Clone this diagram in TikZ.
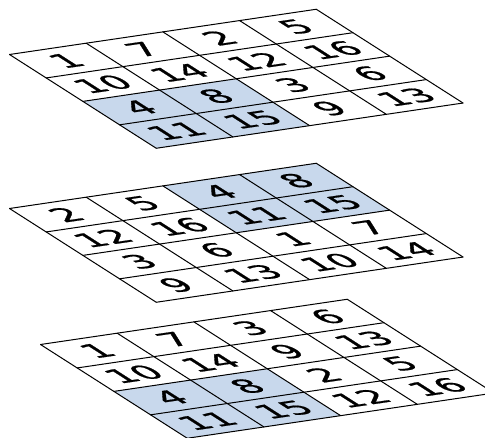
\documentclass[tikz,border=0pt]{standalone}
\usepackage{fontspec}
\setmainfont{DejaVu Sans}
\newfontfamily\cellfont[FakeBold=0.8]{DejaVu Sans}
\definecolor{cellblue}{RGB}{200,216,236}
\tikzset{
  gridline/.style={line width=1pt, draw=black, line cap=round},
  shadecell/.style={fill=cellblue},
  celltext/.style={transform shape, xscale=0.68, inner sep=0pt,
    font=\cellfont\fontsize{14.5}{14.5}\selectfont, text=black},
}
\newcommand\permgrid[5]{%
  \begin{scope}[cm={3.8345,0.5655,-1.8345,1.172,(#1pt,#2pt)}, x=20pt, y=20pt]
    \foreach \rr/\cc in {#3} \fill[shadecell] (\cc,-\rr) rectangle ++(1,-1);
    \foreach \i in {0,...,4} {
      \draw[gridline] (\i,0) -- (\i,-4);
      \draw[gridline] (0,-\i) -- (4,-\i);
    }
    \foreach \t [count=\k from 0] in {#4} {
      \pgfmathtruncatemacro\rr{floor(\k/4)}
      \pgfmathtruncatemacro\cc{mod(\k,4)}
      \node[celltext] (#5-\k) at (\cc+0.5,-\rr-0.5) {\t};
    }
  \end{scope}}
\begin{document}
\begin{tikzpicture}
\useasboundingbox (0,0) rectangle (485pt,-437pt);
\clip (0,0) rectangle (485pt,-437pt);
\permgrid{9.5}{-54.5}{2/0,2/1,3/0,3/1}{1,7,2,5,10,14,12,16,4,8,3,6,11,15,9,13}{ga}
\permgrid{9.5}{-208.5}{0/2,0/3,1/2,1/3}{2,5,4,8,12,16,11,15,3,6,1,7,9,13,10,14}{gb}
\permgrid{40.5}{-344.5}{2/0,2/1,3/0,3/1}{1,7,3,6,10,14,9,13,4,8,2,5,11,15,12,16}{gc}
\end{tikzpicture}
\end{document}
